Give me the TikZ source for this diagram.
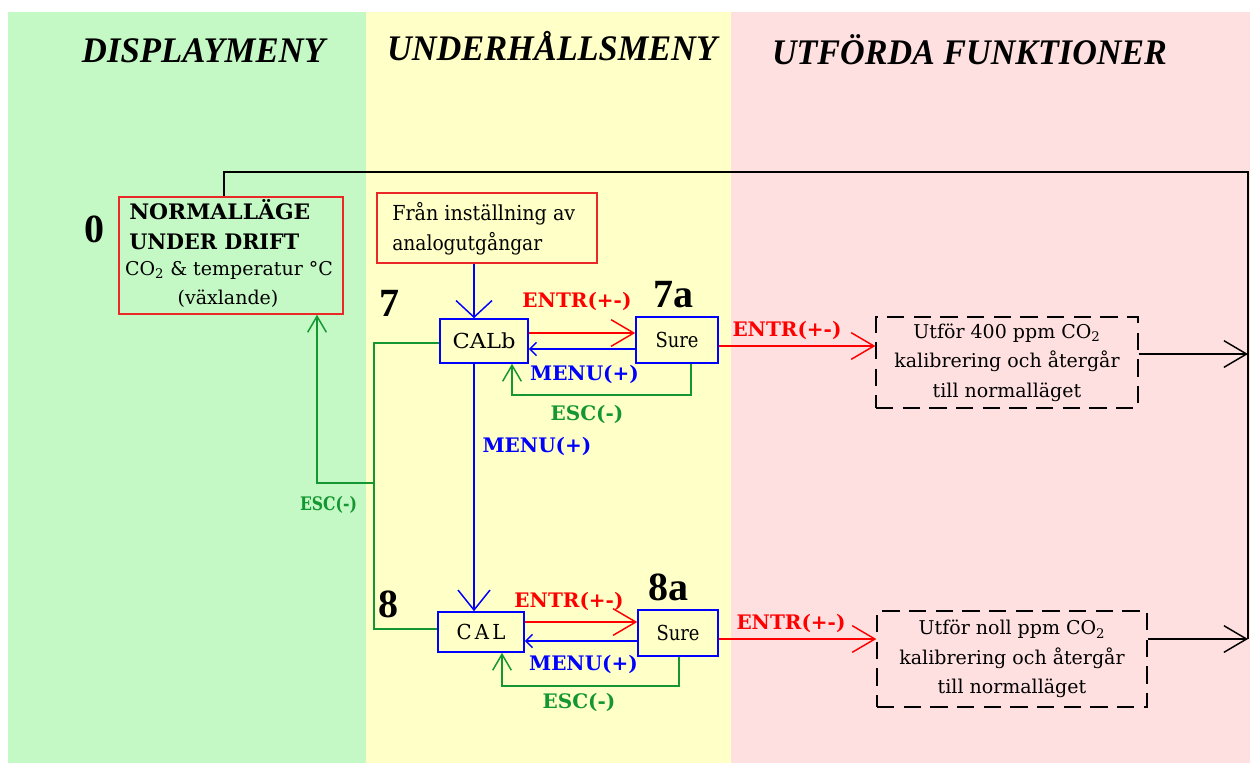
\documentclass[tikz,border=0pt]{standalone}
\usepackage{fontspec}
\setmainfont{DejaVu Serif}
\newfontfamily\lib{Liberation Serif}
\usetikzlibrary{arrows.meta}
\definecolor{bggreen}{RGB}{196,248,196}
\definecolor{bgyellow}{RGB}{255,255,200}
\definecolor{bgpink}{RGB}{255,224,224}
\definecolor{boxred}{RGB}{235,40,40}
\definecolor{lred}{RGB}{255,0,0}
\definecolor{lblue}{RGB}{0,0,255}
\definecolor{lgreen}{RGB}{20,150,50}
\newcommand\bodyfont{\fontsize{14.25pt}{22pt}\selectfont}
\newcommand\bigbodyfont{\fontsize{15.5pt}{22pt}\selectfont}
\newcommand\labfont{\fontsize{15pt}{18pt}\selectfont\bfseries}
\newcommand\normfont{\fontsize{16pt}{18pt}\selectfont\bfseries}
\newcommand\numfont{\lib\fontsize{30pt}{32pt}\selectfont\bfseries}
\newcommand\titlefont{\lib\fontsize{27pt}{30pt}\selectfont\bfseries\itshape}
\newcommand\fitw[2]{\resizebox{#1}{\height}{#2}}
\begin{document}
\begin{tikzpicture}[x=0.75pt,y=-0.75pt,
  title/.style={anchor=base,inner sep=0pt,font=\titlefont},
  redbox/.style={draw=boxred,line width=1.2pt,inner sep=0pt},
  bluebox/.style={draw=lblue,line width=1.2pt,inner sep=0pt,font=\bigbodyfont},
  dashbox/.style={draw=black,line width=1pt,dash pattern=on 13pt off 7pt,align=center,inner sep=0pt,font=\bodyfont},
  txt/.style={inner sep=0pt,font=\bodyfont},
  num/.style={anchor=base,inner sep=0pt,font=\numfont},
  lab/.style={anchor=base,inner sep=0pt,font=\labfont},
  conn/.style={line width=1.1pt},
  redc/.style={conn,draw=lred},
  bluec/.style={conn,draw=lblue},
  greenc/.style={conn,draw=lgreen},
  blkc/.style={conn,draw=black},
  bigtip/.style={-{Straight Barb[length=17pt,width=20pt]}},
  fromtip/.style={-{Straight Barb[length=12.5pt,width=27pt]}},
  downtip/.style={-{Straight Barb[length=15pt,width=24pt]}},
  smalltip/.style={-{Straight Barb[length=5pt,width=10pt]}},
  esctip/.style={-{Straight Barb[length=12pt,width=14pt]}}
]
\useasboundingbox (0,0) rectangle (1250,765);
\fill[white] (0,0) rectangle (1250,765);
\fill[bggreen] (8,12) rectangle (366,763);
\fill[bgyellow] (366,12) rectangle (731,763);
\fill[bgpink] (731,12) rectangle (1250,763);

% titles
\node[title] (t1) at (203.5,62) {\fitw{182.25pt}{DISPLAYMENY}};
\node[title] (t2) at (552,60) {\fitw{247.5pt}{UNDERHÅLLSMENY}};
\node[title] (t3) at (969.5,64) {\fitw{296.25pt}{UTFÖRDA FUNKTIONER}};

% boxes
\node[redbox,minimum width=168pt,minimum height=87.75pt] (normal) at (231,255.5) {};
\node[redbox,minimum width=165pt,minimum height=52.5pt] (fran) at (487,228) {};
\node[bluebox,minimum width=66pt,minimum height=33pt] (calb) at (484,341) {\fitw{47.25pt}{CALb}};
\node[bluebox,minimum width=61.5pt,minimum height=34.5pt] (sure7) at (677,340) {\fitw{32.25pt}{Sure}};
\node[bluebox,minimum width=64.5pt,minimum height=30pt] (cal) at (481,632) {\fitw{36.75pt}{C\,A\,L}};
\node[bluebox,minimum width=60pt,minimum height=34.5pt] (sure8) at (678,633) {\fitw{32.25pt}{Sure}};
\node[dashbox,minimum width=196.5pt,minimum height=68.25pt] (utf1) at (1007,362.5) {Utför 400 ppm CO\textsubscript{2}\\kalibrering och återgår\\till normalläget};
\node[dashbox,minimum width=202.5pt,minimum height=72pt] (utf2) at (1012,659) {Utför noll ppm CO\textsubscript{2}\\kalibrering och återgår\\till normalläget};

% texts inside red boxes
\node[txt,anchor=base west,font=\normfont] (n1) at (129,219) {\fitw{135.75pt}{NORMALLÄGE}};
\node[txt,anchor=base west,font=\normfont] (n2) at (129,249) {\fitw{127.5pt}{UNDER DRIFT}};
\node[txt,anchor=base] (n3) at (229,275) {CO\textsubscript{2} \& temperatur °C};
\node[txt,anchor=base] (n4) at (228,304) {(växlande)};
\node[txt,anchor=base west,font=\bigbodyfont] (f1) at (392,220) {\fitw{137.25pt}{Från inställning av}};
\node[txt,anchor=base west,font=\bigbodyfont] (f2) at (392,250) {\fitw{112.5pt}{analogutgångar}};

% numbers
\node[num] (l0) at (94,242) {0};
\node[num] (l7) at (389,316) {7};
\node[num] (l7a) at (673,307) {7a};
\node[num] (l8) at (388,617) {8};
\node[num] (l8a) at (668,600) {8a};

% labels
\node[lab,text=lred] (e7) at (577,307) {ENTR(+-)};
\node[lab,text=lblue] (m7) at (584.5,380) {MENU(+)};
\node[lab,text=lgreen] (s7) at (587,420) {ESC(-)};
\node[lab,text=lred] (e8) at (569,607) {ENTR(+-)};
\node[lab,text=lblue] (m8) at (583.5,670) {MENU(+)};
\node[lab,text=lgreen] (s8) at (579,708) {ESC(-)};
\node[lab,text=lgreen,font=\fontsize{14pt}{16pt}\selectfont\bfseries] (sl) at (328.5,510) {\fitw{42.75pt}{ESC(-)}};
\node[lab,text=lblue] (mv) at (537,452) {MENU(+)};
\node[lab,text=lred] (eo7) at (787,336) {ENTR(+-)};
\node[lab,text=lred] (eo8) at (791,629) {ENTR(+-)};

% black return line
\coordinate (tl) at (224,172);
\coordinate (tr) at (1248,172);
\coordinate (r1) at (1248,354);
\coordinate (r2) at (1248,639);
\draw[blkc] (normal.north -| tl) -- (tl) -- (tr) -- (r2);
\draw[blkc,bigtip] (utf1.east |- r1) -- (r1);
\draw[blkc,bigtip] (utf2.east |- r2) -- (r2);

% step 7
\draw[bluec,fromtip] (fran.south -| 474,0) -- (calb.north -| 474,0);
\draw[redc,bigtip] (calb.east |- 0,333) -- (sure7.west |- 0,333);
\draw[bluec,smalltip] (sure7.west |- 0,349) -- (calb.east |- 0,349);
\draw[greenc,esctip] (sure7.south -| 691,0) -- (691,395) -- (512,395) -- (calb.south -| 512,0);
\draw[redc,bigtip] (sure7.east |- 0,346) -- (utf1.west |- 0,346);

% 7 -> 8
\draw[bluec,downtip] (calb.south -| 474,0) -- (cal.north -| 474,0);

% ESC back to normal
\draw[greenc] (calb.west |- 0,343) -- (374,343) -- (374,629) -- (cal.west |- 0,629);
\draw[greenc,esctip] (374,483) -- (317,483) -- (normal.south -| 317,0);

% step 8
\draw[redc,bigtip] (cal.east |- 0,622) -- (sure8.west |- 0,622);
\draw[bluec,smalltip] (sure8.west |- 0,641) -- (cal.east |- 0,641);
\draw[greenc,esctip] (sure8.south -| 679,0) -- (679,686) -- (502,686) -- (cal.south -| 502,0);
\draw[redc,bigtip] (sure8.east |- 0,639) -- (utf2.west |- 0,639);
\end{tikzpicture}
\end{document}
